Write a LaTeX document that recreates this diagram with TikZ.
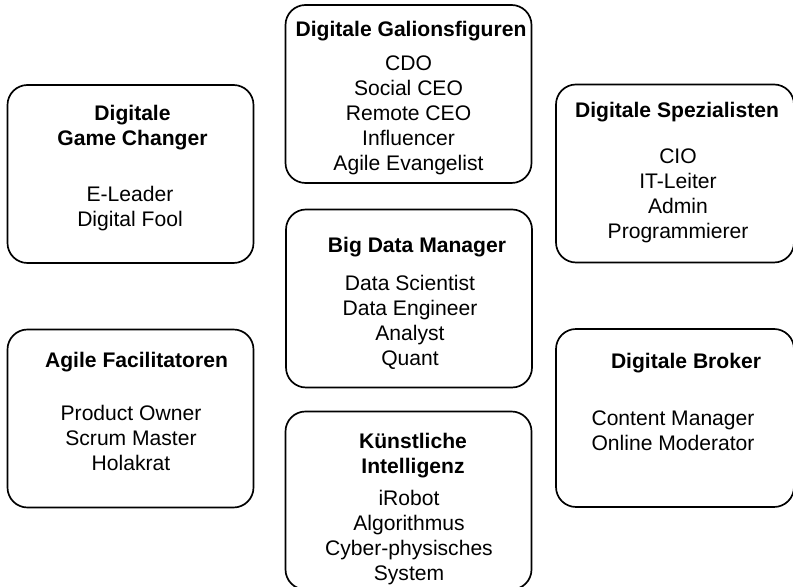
\documentclass[tikz,border=0pt]{standalone}
\usepackage{fontspec}
\setmainfont{Liberation Sans}
\usetikzlibrary{positioning}

\begin{document}
\begin{tikzpicture}[
        group/.style={draw, line width=1.2pt, rounded corners=0.5cm,
                      minimum width=6.15cm, minimum height=4.45cm},
        head/.style ={anchor=north, inner sep=0pt, align=center,
                      font=\fontsize{15}{17.8}\selectfont\bfseries},
        roles/.style={anchor=north, inner sep=0pt, align=center,
                      font=\fontsize{15}{17.8}\selectfont},
    ]
        \useasboundingbox (0,0) rectangle (19.825,-14.675);
        \clip (0,0) rectangle (19.825,-14.675);

        % Middle column
        \node[group]  (gal)    at (10.2125, -2.35)   {};
        \node[head]   (galT)   at (10.275, -0.52)    {Digitale Galionsfiguren};
        \node[roles]  (galR)   at (10.2125, -1.375)  {CDO\\Social CEO\\Remote CEO\\Influencer\\Agile Evangelist};

        \node[group]  (bdm)    at (10.225, -7.4625)  {};
        \node[head]   (bdmT)   at (10.425, -5.925)   {Big Data Manager};
        \node[roles]  (bdmR)   at (10.25, -6.875)    {Data Scientist\\Data Engineer\\Analyst\\Quant};

        \node[group]  (ki)     at (10.2125, -12.5125) {};
        \node[head]   (kiT)    at (10.325, -10.825)  {Künstliche\\Intelligenz};
        \node[roles]  (kiR)    at (10.225, -12.25)   {iRobot\\Algorithmus\\Cyber-physisches\\System};

        % Left column
        \node[group]  (game)   at (3.2625, -4.35)    {};
        \node[head]   (gameT)  at (3.3125, -2.625)   {Digitale\\Game Changer};
        \node[roles]  (gameR)  at (3.25, -4.65)      {E-Leader\\Digital Fool};

        \node[group]  (agile)  at (3.2625, -10.4625) {};
        \node[head]   (agileT) at (3.4125, -8.8)     {Agile Facilitatoren};
        \node[roles]  (agileR) at (3.275, -10.125)   {Product Owner\\Scrum Master\\Holakrat};

        % Right column (runs off the right edge)
        \node[group, minimum width=5.95cm] (spez)  at (16.875, -4.3375) {};
        \node[head]   (spezT)  at (16.925, -2.55)    {Digitale Spezialisten};
        \node[roles]  (spezR)  at (16.95, -3.7)      {CIO\\IT-Leiter\\Admin\\Programmierer};

        \node[group, minimum width=5.95cm] (broker) at (16.875, -10.45) {};
        \node[head]   (brokerT) at (17.15, -8.825)   {Digitale Broker};
        \node[roles]  (brokerR) at (16.825, -10.25)  {Content Manager\\Online Moderator};
    \end{tikzpicture}
\end{document}
